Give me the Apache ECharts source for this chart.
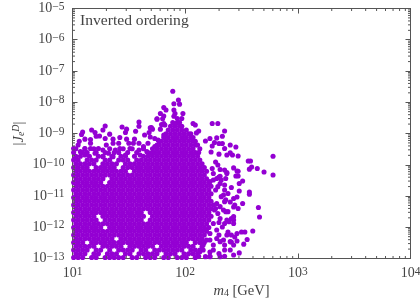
<!DOCTYPE html>
<html><head><meta charset="utf-8">
<style>html,body{margin:0;padding:0;background:#fff}#c{width:420px;height:300px}</style>
<script src="https://cdn.jsdelivr.net/npm/echarts@6/dist/echarts.min.js"></script>
</head><body><div id="c"></div>
<script>
// log10 of |J_e^D| for each dense row, and log10 of m4 for the points read along that row
const rowLogJ = [-12.97,-12.85,-12.73,-12.61,-12.49,-12.37,-12.25,-12.13,-12.01,-11.89,-11.77,-11.65,-11.53,-11.41,-11.29,-11.17,-11.05,-10.93,-10.81,-10.69,-10.57,-10.45,-10.33,-10.21,-10.09,-9.97,-9.85,-9.73,-9.61,-9.49,-9.37,-9.25,-9.13,-9.01,-8.89,-8.77,-8.65];
const rowLogM = [
[1.01,1.05,1.09,1.17,1.21,1.29,1.33,1.37,1.41,1.45,1.53,1.57,1.65,1.69,1.73,1.81,1.85,1.93,1.97,2.01,2.09],
[1.03,1.07,1.11,1.19,1.23,1.31,1.35,1.39,1.47,1.51,1.59,1.63,1.67,1.71,1.75,1.83,1.87,1.91,1.99,2.03,2.07,2.11],
[1.01,1.05,1.09,1.13,1.21,1.25,1.33,1.41,1.45,1.49,1.53,1.61,1.65,1.73,1.77,1.81,1.85,1.89,1.93,1.97,2.05,2.09,2.13],
[1.03,1.07,1.11,1.15,1.19,1.27,1.31,1.35,1.39,1.43,1.51,1.55,1.59,1.63,1.67,1.71,1.79,1.83,1.87,1.91,1.95,1.99,2.03,2.07,2.15],
[1.01,1.05,1.09,1.17,1.21,1.25,1.29,1.33,1.37,1.41,1.45,1.49,1.53,1.57,1.61,1.65,1.69,1.73,1.77,1.81,1.85,1.89,1.93,1.97,2.01,2.09,2.13,2.17],
[1.03,1.07,1.11,1.15,1.19,1.23,1.27,1.31,1.35,1.43,1.47,1.51,1.55,1.59,1.63,1.67,1.71,1.75,1.79,1.83,1.87,1.91,1.95,1.99,2.03,2.07,2.11,2.15],
[1.01,1.05,1.09,1.13,1.17,1.21,1.25,1.29,1.33,1.37,1.41,1.45,1.49,1.53,1.57,1.61,1.65,1.69,1.73,1.77,1.81,1.85,1.89,1.93,1.97,2.01,2.05,2.09,2.13,2.17],
[1.03,1.07,1.11,1.15,1.19,1.23,1.27,1.31,1.35,1.39,1.43,1.47,1.51,1.55,1.59,1.63,1.67,1.71,1.75,1.79,1.83,1.87,1.91,1.95,1.99,2.03,2.07,2.11,2.15,2.19],
[1.01,1.05,1.09,1.13,1.17,1.21,1.25,1.33,1.37,1.41,1.45,1.49,1.53,1.57,1.61,1.65,1.69,1.73,1.77,1.81,1.85,1.89,1.93,1.97,2.01,2.05,2.09,2.13,2.17,2.21],
[1.03,1.07,1.11,1.15,1.19,1.23,1.27,1.31,1.35,1.39,1.43,1.47,1.51,1.55,1.59,1.63,1.67,1.71,1.75,1.79,1.83,1.87,1.91,1.95,1.99,2.03,2.07,2.11,2.15,2.19],
[1.01,1.05,1.09,1.13,1.17,1.21,1.29,1.33,1.37,1.41,1.45,1.49,1.53,1.57,1.61,1.69,1.73,1.77,1.81,1.85,1.89,1.93,1.97,2.01,2.05,2.09,2.13,2.17,2.21],
[1.03,1.07,1.11,1.15,1.19,1.27,1.31,1.35,1.39,1.43,1.47,1.51,1.55,1.59,1.63,1.71,1.75,1.79,1.83,1.87,1.91,1.95,1.99,2.03,2.07,2.11,2.15,2.19,2.23],
[1.01,1.05,1.09,1.13,1.17,1.21,1.25,1.29,1.33,1.37,1.41,1.45,1.49,1.53,1.57,1.61,1.69,1.73,1.77,1.81,1.85,1.89,1.93,1.97,2.01,2.05,2.09,2.13,2.17,2.21],
[1.03,1.07,1.11,1.15,1.19,1.23,1.27,1.31,1.35,1.39,1.43,1.47,1.51,1.55,1.59,1.63,1.67,1.71,1.75,1.79,1.83,1.87,1.91,1.95,1.99,2.03,2.07,2.11,2.15,2.19,2.23],
[1.01,1.05,1.09,1.13,1.17,1.21,1.25,1.29,1.33,1.37,1.41,1.45,1.49,1.53,1.57,1.61,1.65,1.69,1.73,1.77,1.81,1.85,1.89,1.93,1.97,2.01,2.05,2.09,2.13,2.17,2.21,2.25],
[1.03,1.07,1.11,1.15,1.19,1.23,1.27,1.31,1.35,1.39,1.43,1.47,1.51,1.55,1.59,1.63,1.67,1.71,1.75,1.79,1.83,1.87,1.91,1.95,1.99,2.03,2.07,2.11,2.15,2.19,2.23],
[1.01,1.05,1.09,1.13,1.17,1.21,1.25,1.29,1.33,1.37,1.41,1.45,1.49,1.53,1.57,1.61,1.65,1.69,1.73,1.77,1.81,1.85,1.89,1.93,1.97,2.01,2.05,2.09,2.13,2.17,2.21],
[1.03,1.07,1.11,1.15,1.19,1.23,1.27,1.31,1.35,1.39,1.43,1.47,1.51,1.55,1.59,1.63,1.67,1.71,1.75,1.79,1.83,1.87,1.91,1.95,1.99,2.03,2.07,2.11,2.15,2.19,2.23],
[1.01,1.05,1.09,1.13,1.17,1.21,1.25,1.29,1.33,1.37,1.41,1.45,1.49,1.53,1.57,1.61,1.65,1.69,1.73,1.77,1.81,1.85,1.89,1.93,1.97,2.01,2.05,2.09,2.13,2.17,2.21],
[1.03,1.07,1.11,1.15,1.19,1.23,1.27,1.31,1.35,1.39,1.43,1.47,1.51,1.55,1.59,1.63,1.67,1.71,1.75,1.79,1.83,1.87,1.91,1.95,1.99,2.03,2.07,2.11,2.15,2.19,2.23],
[1.01,1.05,1.09,1.13,1.17,1.21,1.25,1.33,1.37,1.41,1.45,1.49,1.53,1.57,1.61,1.65,1.69,1.73,1.77,1.81,1.85,1.89,1.93,1.97,2.01,2.05,2.09,2.13,2.17,2.21],
[1.03,1.07,1.11,1.15,1.19,1.23,1.27,1.35,1.39,1.43,1.47,1.51,1.55,1.59,1.63,1.67,1.71,1.75,1.79,1.83,1.87,1.91,1.95,1.99,2.03,2.07,2.11,2.15,2.19],
[1.01,1.05,1.09,1.13,1.17,1.21,1.25,1.29,1.33,1.37,1.41,1.45,1.49,1.53,1.57,1.61,1.65,1.69,1.73,1.77,1.81,1.85,1.89,1.93,1.97,2.01,2.05,2.09,2.13,2.17],
[1.03,1.07,1.11,1.15,1.19,1.23,1.27,1.31,1.35,1.39,1.43,1.47,1.55,1.59,1.63,1.67,1.71,1.75,1.79,1.83,1.87,1.91,1.95,1.99,2.03,2.07,2.11,2.15,2.19],
[1.01,1.05,1.09,1.13,1.21,1.25,1.29,1.33,1.37,1.45,1.49,1.53,1.57,1.61,1.65,1.69,1.73,1.77,1.81,1.85,1.89,1.93,1.97,2.01,2.05,2.09,2.13,2.17],
[1.03,1.07,1.11,1.15,1.19,1.27,1.31,1.35,1.39,1.47,1.51,1.55,1.59,1.63,1.67,1.71,1.75,1.79,1.83,1.87,1.91,1.95,1.99,2.03,2.07,2.11,2.15],
[1.01,1.05,1.13,1.17,1.21,1.29,1.33,1.41,1.45,1.49,1.57,1.61,1.65,1.69,1.73,1.77,1.81,1.85,1.89,1.93,1.97,2.01,2.05,2.09,2.13],
[1.03,1.07,1.15,1.23,1.27,1.35,1.43,1.47,1.55,1.63,1.67,1.71,1.75,1.79,1.83,1.87,1.91,1.95,1.99,2.03,2.07,2.11],
[1.01,1.09,1.13,1.21,1.29,1.37,1.41,1.49,1.57,1.67,1.71,1.73,1.77,1.81,1.85,1.89,1.93,1.97,2.01,2.05,2.09,2.12],
[1.03,1.11,1.19,1.33,1.45,1.53,1.63,1.71,1.75,1.79,1.83,1.87,1.91,1.95,1.99,2.03,2.07,2.13],
[1.75,1.77,1.81,1.85,1.89,1.93,1.97,2.01,2.05,2.09,2.11],
[1.77,1.79,1.83,1.87,1.91,1.95,1.99,2.03,2.07,2.09],
[1.81,1.85,1.89,1.93,1.97,2.01,2.05,2.07],
[1.83,1.87,1.91,1.95,1.99,2.03,2.05],
[1.85,1.89,1.93,1.97,2.01],
[1.87,1.91,1.95,1.97],
[1.89,1.93,1.95]
];
// isolated points read one by one around the dense cloud
const edgeLogM = [1.01,1.09,1.08,1.17,1.2,1.27,1.29,1.33,1.44,1.48,1.47,1.59,1.59,1.56,1.42,1.21,1.24,1.29,1.16,1.11,1.06,1.36,1.48,1.55,1.64,1.69,1.71,1.75,1.81,1.79,1.69,1.73,1.78,1.82,1.89,1.94,1.9,1.95,1.81,1.83,1.78,1.9,1.91,1.98,1.9,1.75,1.8,1.7,1.68,1.81,1.93,1.97,2.07,2.09,2.24,2.29,2.35,2.12,2.1,2.33,2.28,2.22,2.18,2.26,2.3,2.33,2.4,2.45,2.35,2.24,2.23,2.3,2.4,2.37,2.47,2.42,2.78,2.56,2.58,2.59,2.57,2.64,2.7,2.78,2.43,2.46,2.35,2.37,2.45,2.47,2.27,2.29,2.31,2.24,2.3,2.36,2.57,2.57,2.51,2.48,2.48,2.46,2.51,2.65,2.66,2.6,2.53,2.5,2.46,2.44,2.55,2.52,2.46,2.48,2.43,2.41,2.43,2.37,2.38,2.41,2.4,2.35,2.3,2.22,2.47,2.43,2.4,2.34,2.35,2.41,2.37,2.47,2.31,2.25,2.34,2.31,2.27,2.28,2.33,2.28,2.34,2.25,2.19,2.22,2.3,2.41,2.18,2.16,2.35,2.22,2.12,2.27,2.36,2.3,2.36,
2.25,2.28,2.22,2.32,2.29,2.35,2.38,2.32,2.35,2.31,2.43,2.44,2.38,2.43,2.39,2.43,2.35,2.31,2.29,2.26,2.37,2.4,2.28,2.25,2.22,2.31,2.43,2.25,2.35,2.31,2.22,2.16,2.18,2.13,
1.02,1.07,1.11,1.05,1.16,1.2,1.23,1.27,1.32,1.36,1.38,1.42,1.47,1.51,1.54,1.59,1.63,1.67,1.7,1.36,1.27,1.11,1.16,1.3,1.41,1.5,1.59,1.66,1.73,1.6,1.76,1.81];
const edgeLogJ = [-9.48,-8.95,-9.03,-8.89,-8.97,-8.89,-8.76,-9.02,-8.79,-8.86,-8.97,-8.63,-8.77,-8.93,-9.13,-9.09,-9.08,-9.16,-9.19,-9.18,-9.25,-9.18,-9.18,-9.18,-9.05,-8.82,-8.86,-8.54,-8.44,-8.71,-9.11,-9.16,-8.86,-8.73,-7.65,-7.93,-8.05,-8.06,-8.17,-8.25,-8.36,-8.25,-8.36,-8.36,-8.45,-8.53,-8.53,-8.81,-8.97,-8.68,-8.52,-8.52,-8.68,-8.73,-8.68,-8.68,-8.92,-8.92,-8.98,-9.09,-9.14,-9.16,-9.24,-9.29,-9.32,-9.32,-9.37,-9.43,-9.48,-9.4,-9.59,-9.66,-9.62,-9.69,-9.72,-9.69,-9.73,-9.88,-9.88,-10.07,-10.14,-10.12,-10.23,-10.33,-10.1,-10.2,-10.17,-10.28,-10.36,-10.36,-9.91,-10.01,-10.15,-10.12,-10.39,-10.44,-10.87,-10.94,-10.52,-10.6,-10.84,-11.03,-11.24,-11.37,-11.67,-12.12,-12.15,-12.15,-12.2,-12.31,-12.39,-12.54,-12.44,-12.82,-12.89,-11.72,-11.77,-11.77,-12.15,-12.47,-12.73,-12.57,-12.84,-12.79,-11.4,-11.35,-11.19,-11.45,-10.81,-10.73,-10.25,-10.21,-10.37,-10.49,-10.97,-10.6,-10.81,-11.24,-11.99,-12.36,-12.41,-12.57,-12.41,-12.2,-12.25,-12.25,-12.09,-12.73,-12.93,-12.93,-12.93,-11.4,-11.5,-11.85,-11.12,
-10.28,-10.44,-10.54,-10.49,-10.7,-10.65,-10.92,-11.02,-11.18,-11.34,-11.08,-11.29,-11.5,-11.66,-11.82,-11.88,-11.88,-11.72,-11.56,-11.45,-12.25,-12.46,-12.09,-11.88,-12.41,-12.46,-12.57,-12.73,-12.73,-12.94,-12.94,-12.57,-12.94,-12.78,
-9.8,-9.58,-9.48,-9.37,-9.48,-9.63,-9.48,-9.53,-9.63,-9.31,-9.53,-9.48,-9.69,-9.48,-9.31,-9.53,-9.42,-9.31,-9.63,-9.74,-9.74,-9.69,-9.31,-9.37,-9.31,-9.31,-9.31,-9.58,-9.42,-9.69,-9.21,-9.05];
const xTickExponents = [1,2,3,4];
const yTickExponents = [-13,-12,-11,-10,-9,-8,-7,-6,-5];
const minorMultipliers = [2,3,4,5,6,7,8,9];
const note = 'Inverted ordering';

const points = [];
rowLogJ.forEach((j, r) => rowLogM[r].forEach(m => points.push([Math.pow(10, m), Math.pow(10, j)])));
edgeLogM.forEach((m, i) => points.push([Math.pow(10, m), Math.pow(10, edgeLogJ[i])]));

const xMin = 10, xMax = 1e4, yMin = 1e-13, yMax = 1e-5;
const xMinor = [], yMinor = [];
xTickExponents.slice(0, -1).forEach(e => minorMultipliers.forEach(k => xMinor.push([k * Math.pow(10, e), yMin])));
yTickExponents.slice(0, -1).forEach(e => minorMultipliers.forEach(k => yMinor.push([xMin, k * Math.pow(10, e)])));

const font = '"Liberation Serif"';
const ink = '#444';
const rich = {
  b: {fontFamily: font, fontSize: 14, color: ink},
  s: {fontFamily: font, fontSize: 11.5, color: ink, verticalAlign: 'top', lineHeight: 16, padding: [0,0,5,0]}
};
const expLabel = v => '{b|10}{s|' + String(Math.round(Math.log10(v))).replace('-', '\u2212') + '}';
const line = {show: true, onZero: false, lineStyle: {color: '#555', width: 1}};
const tick = {show: true, inside: true, length: 5, lineStyle: {color: '#555', width: 1}};
const frame = {splitLine: {show: false}, minorTick: {show: false}, minorSplitLine: {show: false}};

const chart = echarts.init(document.getElementById('c'), null, {renderer: 'canvas'});
const minorSeries = (data, vertical) => ({
  type: 'custom', data, clip: false, silent: true, z: 5, coordinateSystem: 'cartesian2d', animation: false,
  renderItem: (p, api) => {
    const v = [api.value(0), api.value(1)];
    const a = vertical ? api.coord([v[0], yMin]) : api.coord([xMin, v[1]]);
    const b = vertical ? api.coord([v[0], yMax]) : api.coord([xMax, v[1]]);
    const st = {stroke: '#555', lineWidth: 1};
    const n = 2.5;
    return {type: 'group', children: vertical ? [
      {type: 'line', shape: {x1: a[0], y1: a[1], x2: a[0], y2: a[1] - n}, style: st},
      {type: 'line', shape: {x1: b[0], y1: b[1], x2: b[0], y2: b[1] + n}, style: st}
    ] : [
      {type: 'line', shape: {x1: a[0], y1: a[1], x2: a[0] + n, y2: a[1]}, style: st},
      {type: 'line', shape: {x1: b[0], y1: b[1], x2: b[0] - n, y2: b[1]}, style: st}
    ]};
  }
});
chart.setOption({
  animation: false,
  backgroundColor: '#fff',
  title: {text: note, left: 75, top: 8, textStyle: {fontFamily: font, fontSize: 15.6, fontWeight: 'normal', color: ink}},
  grid: {left: 72.5, top: 8.5, width: 338, height: 250, containLabel: false, outerBoundsMode: 'none'},
  xAxis: [
    Object.assign({type: 'log', logBase: 10, min: xMin, max: xMax, axisLine: line, axisTick: tick,
      axisLabel: {formatter: expLabel, rich, margin: 7, hideOverlap: false, showMinLabel: true, showMaxLabel: true},
      name: '{i|m}{u|4}{b| [GeV]}', nameLocation: 'middle', nameGap: 25, nameMoveOverlap: false,
      nameTextStyle: {rich: {
        i: {fontFamily: font, fontStyle: 'italic', fontSize: 14.5, color: ink},
        u: {fontFamily: font, fontSize: 10, color: ink, verticalAlign: 'bottom', padding: [4,0,0,0]},
        b: {fontFamily: font, fontSize: 14.5, color: ink}}}}, frame),
    Object.assign({type: 'log', logBase: 10, min: xMin, max: xMax, position: 'top', axisLine: line, axisTick: tick, axisLabel: {show: false}}, frame)
  ],
  yAxis: [
    Object.assign({type: 'log', logBase: 10, min: yMin, max: yMax, axisLine: line, axisTick: tick,
      axisLabel: {formatter: expLabel, rich, margin: 8, hideOverlap: false, showMinLabel: true, showMaxLabel: true},
      name: '{b||}{i|J}{u|e}{v|D}{b||}', nameLocation: 'middle', nameGap: 46, nameRotate: 90, nameMoveOverlap: false,
      nameTextStyle: {rich: {
        b: {fontFamily: font, fontSize: 14.5, color: ink},
        i: {fontFamily: font, fontStyle: 'italic', fontSize: 14.5, color: ink},
        u: {fontFamily: font, fontStyle: 'italic', fontSize: 10, color: ink, verticalAlign: 'bottom'},
        v: {fontFamily: font, fontStyle: 'italic', fontSize: 10, color: ink, verticalAlign: 'top'}}}}, frame),
    Object.assign({type: 'log', logBase: 10, min: yMin, max: yMax, position: 'right', axisLine: line, axisTick: tick, axisLabel: {show: false}}, frame)
  ],
  series: [
    {type: 'scatter', data: points, symbol: 'circle', symbolSize: 5.1, clip: false, large: false, z: 3,
      itemStyle: {color: '#9400D3', opacity: 1}},
    minorSeries(xMinor, true),
    minorSeries(yMinor, false)
  ]
});
</script></body></html>
